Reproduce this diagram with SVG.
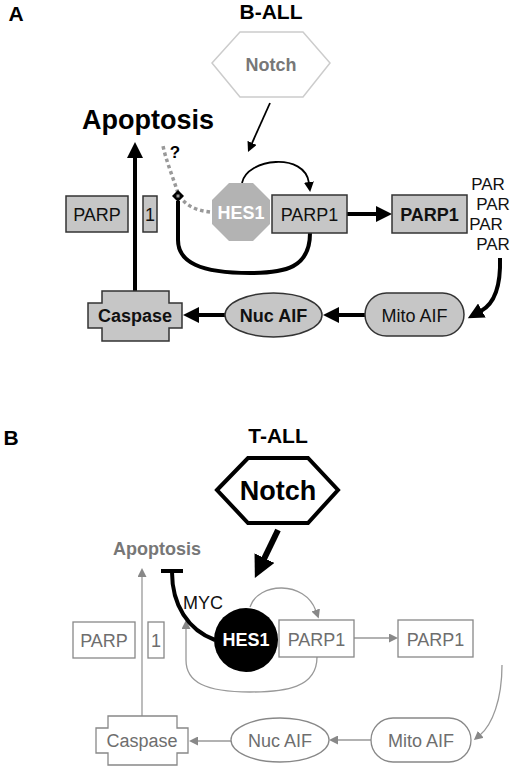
<svg xmlns="http://www.w3.org/2000/svg" width="520" height="773" viewBox="0 0 520 773">
<style>
text{font-family:"Liberation Sans",Arial,sans-serif;text-anchor:middle}
.lbl{font-size:21px;font-weight:bold;fill:#000}
.boxA{fill:#c6c6c6;stroke:#333;stroke-width:1.5}
.boxB{fill:#fff;stroke:#888;stroke-width:1.3}
.tA{font-size:18px;fill:#111}
.tB{font-size:18px;fill:#6e6e6e}
.b{font-weight:bold}
.thick{fill:none;stroke:#000;stroke-width:4}
.thin{fill:none;stroke:#000;stroke-width:1.8}
.gray{fill:none;stroke:#999;stroke-width:1.3}
</style>
<defs>
<marker id="ahA" markerUnits="userSpaceOnUse" markerWidth="17" markerHeight="16" refX="1" refY="8" orient="auto"><path d="M0,0 L16,8 L0,16 z" fill="#000"/></marker>
<marker id="ahT" markerUnits="userSpaceOnUse" markerWidth="11" markerHeight="10" refX="1" refY="5" orient="auto"><path d="M0,0 L10,5 L0,10 z" fill="#000"/></marker>
<marker id="ahN" markerUnits="userSpaceOnUse" markerWidth="23" markerHeight="22" refX="1" refY="11" orient="auto"><path d="M0,0 L22,11 L0,22 z" fill="#000"/></marker>
<marker id="ahG" markerUnits="userSpaceOnUse" markerWidth="10" markerHeight="9" refX="1" refY="4.5" orient="auto"><path d="M0,0 L9,4.5 L0,9 z" fill="#888"/></marker>
<marker id="dia" markerUnits="userSpaceOnUse" markerWidth="14" markerHeight="14" refX="2" refY="7" orient="auto"><path d="M1,7 L7,1 L13,7 L7,13 z" fill="#000"/><rect x="5.5" y="5.5" width="3" height="3" fill="#999"/></marker>
</defs>

<text class="lbl" x="16" y="21">A</text>
<text class="lbl" x="271" y="19">B-ALL</text>
<text class="lbl" x="11" y="445">B</text>
<text class="lbl" x="278" y="443">T-ALL</text>

<g id="connectors">
<path class="thin" d="M270,103 L251.7,143.8" marker-end="url(#ahT)"/>
<path class="thin" d="M242,183 C247,158 305,152 309,183" marker-end="url(#ahT)"/>
<path class="thick" d="M347,214 L377,214" marker-end="url(#ahA)"/>
<path class="thick" d="M500,258 C501,290 492,305 481,311" marker-end="url(#ahA)"/>
<path class="thick" d="M365,315 L338,315" marker-end="url(#ahA)"/>
<path class="thick" d="M225,315 L198,315" marker-end="url(#ahA)"/>
<path class="thick" d="M135,291 L135,157" marker-end="url(#ahA)"/>
<path d="M210,212 C190,210 180,200 177,190 C172,175 166,160 163,146" fill="none" stroke="#999" stroke-width="3.5" stroke-dasharray="3.5 3"/>
<path class="thick" d="M310,233 C310,268 285,273 250,273 C200,273 178,262 178,240 L178,201" marker-end="url(#dia)"/>

<path d="M278,530 L264,559" fill="none" stroke="#000" stroke-width="6" marker-end="url(#ahN)"/>
<path class="gray" d="M250,607 C258,582 305,580 316,611" marker-end="url(#ahG)"/>
<path class="gray" d="M354,638 L390,638" marker-end="url(#ahG)"/>
<path class="gray" d="M502,665 C502,700 492,725 480,735" marker-end="url(#ahG)"/>
<path class="gray" d="M371,740 L337,740" marker-end="url(#ahG)"/>
<path class="gray" d="M231,741 L197,741" marker-end="url(#ahG)"/>
<path class="gray" d="M142,716 L142,576" marker-end="url(#ahG)"/>
<path class="gray" d="M317,657 C317,688 285,692 250,692 C205,692 186,682 186,660 L186,628" marker-end="url(#ahG)"/>
<path class="thick" d="M215,640 C188,630 172,605 172,572"/>
<path class="thick" d="M161,571 L183,571"/>
</g>

<g id="A-notch"><polygon points="212,63 240,32 303,32 330,63 303,97 240,97" fill="#fff" stroke="#ccc" stroke-width="1.5"/><text class="b" x="271" y="71" style="font-size:18px;fill:#777">Notch</text></g>
<g id="A-apoptosis"><text x="148" y="129" style="font-size:27px;font-weight:bold">Apoptosis</text><text x="175" y="158" style="font-size:17px;font-weight:bold">?</text></g>
<g id="A-hes1"><polygon points="229,183 253,183 270,200 270,224 253,241 229,241 212,224 212,200" fill="#b3b3b3"/><text class="b" x="241" y="219" style="font-size:18px;fill:#fff">HES1</text></g>
<g id="A-parp1a"><rect class="boxA" x="272" y="195" width="75" height="38"/><text class="tA" x="309.5" y="221">PARP1</text></g>
<g id="A-parp1b"><rect class="boxA" x="392" y="195" width="75" height="38"/><text class="tA b" x="429.5" y="221">PARP1</text></g>
<g id="A-par"><text class="tA" x="488" y="190" style="font-size:17px">PAR</text><text class="tA" x="493" y="210" style="font-size:17px">PAR</text><text class="tA" x="486" y="230" style="font-size:17px">PAR</text><text class="tA" x="493" y="250" style="font-size:17px">PAR</text></g>
<g id="A-mito"><rect class="boxA" x="365" y="293" width="99" height="43" rx="21.5"/><text class="tA" x="414.5" y="322">Mito AIF</text></g>
<g id="A-nuc"><ellipse class="boxA" cx="273.5" cy="315" rx="48.5" ry="22"/><text class="tA b" x="273.5" y="322">Nuc AIF</text></g>
<g id="A-caspase"><polygon class="boxA" points="102,291 169,291 169,303 182,303 182,328 169,328 169,341 102,341 102,328 88,328 88,303 102,303"/><text class="tA b" x="135" y="322">Caspase</text></g>
<g id="A-parp-split"><rect class="boxA" x="66" y="196" width="62" height="36"/><text class="tA" x="97" y="221">PARP</text><rect class="boxA" x="143" y="196" width="14" height="36"/><text class="tA" x="150" y="221">1</text></g>

<g id="B-notch"><polygon points="217,490 248,458 308,458 338,490 308,523 248,523" fill="#fff" stroke="#000" stroke-width="4"/><text x="278" y="500" style="font-size:27px;font-weight:bold">Notch</text></g>
<g id="B-apoptosis"><text class="b" x="157" y="555" style="font-size:18px;fill:#777">Apoptosis</text></g>
<g id="B-myc"><text class="tA" x="203" y="609">MYC</text></g>
<g id="B-hes1"><circle cx="246" cy="640" r="32" fill="#000"/><text class="b" x="246" y="646" style="font-size:18px;fill:#fff">HES1</text></g>
<g id="B-parp1a"><rect class="boxB" x="279" y="620" width="75" height="37"/><text class="tB" x="316.5" y="646">PARP1</text></g>
<g id="B-parp1b"><rect class="boxB" x="398" y="620" width="75" height="37"/><text class="tB" x="435.5" y="646">PARP1</text></g>
<g id="B-mito"><rect class="boxB" x="371" y="718" width="100" height="44" rx="22"/><text class="tB" x="421" y="747">Mito AIF</text></g>
<g id="B-nuc"><ellipse class="boxB" cx="280" cy="740" rx="49" ry="22"/><text class="tB" x="280" y="747">Nuc AIF</text></g>
<g id="B-caspase"><polygon class="boxB" points="108,716 177,716 177,728 188,728 188,753 177,753 177,765 108,765 108,753 96,753 96,728 108,728"/><text class="tB" x="142" y="747">Caspase</text></g>
<g id="B-parp-split"><rect class="boxB" x="73" y="622" width="62" height="36"/><text class="tB" x="104" y="647">PARP</text><rect class="boxB" x="148" y="622" width="16" height="36"/><text class="tB" x="156" y="647">1</text></g>
</svg>
